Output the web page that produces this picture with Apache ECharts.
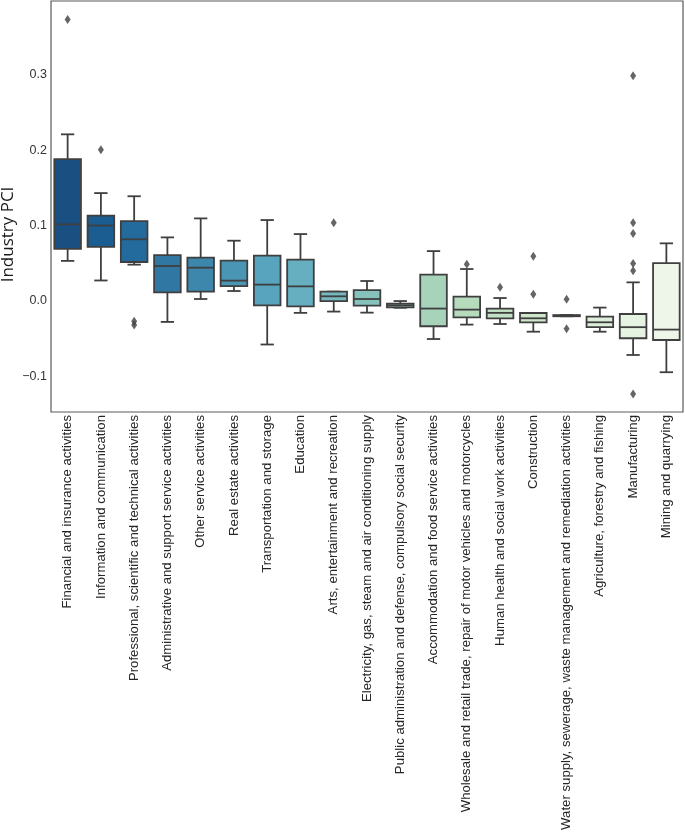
<!DOCTYPE html>
<html>
<head>
<meta charset="utf-8">
<script src="https://cdn.jsdelivr.net/npm/echarts@6/dist/echarts.min.js"></script>
<style>
html,body{margin:0;padding:0;background:#fff;}
#c{width:685px;height:834px;}
</style>
</head>
<body>
<div id="c"></div>
<script>
const categories = [
  "Financial and insurance activities",
  "Information and communication",
  "Professional, scientific and technical activities",
  "Administrative and support service activities",
  "Other service activities",
  "Real estate activities",
  "Transportation and storage",
  "Education",
  "Arts, entertainment and recreation",
  "Electricity, gas, steam and air conditioning supply",
  "Public administration and defense, compulsory social security",
  "Accommodation and food service activities",
  "Wholesale and retail trade, repair of motor vehicles and motorcycles",
  "Human health and social work activities",
  "Construction",
  "Water supply, sewerage, waste management and remediation activities",
  "Agriculture, forestry and fishing",
  "Manufacturing",
  "Mining and quarrying"
];
// [lower whisker, Q1, median, Q3, upper whisker]
const boxStats = [
  [0.053, 0.069, 0.1015, 0.188, 0.221],
  [0.027, 0.0715, 0.100, 0.113, 0.143],
  [0.048, 0.0515, 0.0816, 0.1058, 0.1388],
  [-0.028, 0.0113, 0.0462, 0.0607, 0.0842],
  [0.0024, 0.0122, 0.044, 0.0573, 0.1094],
  [0.013, 0.0196, 0.0268, 0.0533, 0.0798],
  [-0.058, -0.006, 0.0215, 0.060, 0.1072],
  [-0.016, -0.0073, 0.0192, 0.0546, 0.0886],
  [-0.0143, -0.0003, 0.006, 0.0122, 0.0122],
  [-0.0157, -0.0064, 0.0024, 0.0143, 0.0263],
  [-0.0092, -0.0086, -0.006, -0.0037, -0.0003],
  [-0.0507, -0.0338, -0.0103, 0.0347, 0.066],
  [-0.0316, -0.0219, -0.0117, 0.0056, 0.0422],
  [-0.0308, -0.0232, -0.016, -0.0103, 0.0037],
  [-0.041, -0.0285, -0.0232, -0.0162, -0.0162],
  [-0.0205, -0.0205, -0.0197, -0.019, -0.019],
  [-0.041, -0.035, -0.0285, -0.021, -0.009],
  [-0.0719, -0.0497, -0.035, -0.0175, 0.0245],
  [-0.0948, -0.052, -0.0382, 0.0501, 0.0763]
];
// outliers: [category index, value]
const outliers = [
  [0, 0.3736],
  [1, 0.2005],
  [2, -0.027], [2, -0.032],
  [8, 0.1037],
  [12, 0.0484],
  [13, 0.0179],
  [14, 0.059], [14, 0.0086],
  [15, 0.002], [15, -0.037],
  [17, 0.2988], [17, 0.1035], [17, 0.0893], [17, 0.0495], [17, 0.0398], [17, -0.1236]
];
const yTicks = [-0.1, 0.0, 0.1, 0.2, 0.3];

const palette = ["#194f81","#1b5d90","#236b9c","#3078a3","#3d86ac","#4b95b4","#58a3be","#66afc1","#75b8be","#85c2bc","#96caba","#a6d3b9","#b5dabc","#c3e1c4","#cfe6ca","#d7ead2","#deeeda","#e6f2e2","#eef6ea"];
const edge = "#3f3f3f";
const lw = 1.8;
const font = 'Liberation Sans, Arial, sans-serif';

const boxData = boxStats.map((s, i) => [i].concat(s));

const chart = echarts.init(document.getElementById('c'), null, {renderer: 'canvas'});
chart.setOption({
  animation: false,
  backgroundColor: '#fff',
  grid: {left: 51, right: 2, top: 1, bottom: 422, outerBoundsMode: 'none', containLabel: false,
         show: true, borderColor: '#5a5a5a', borderWidth: 1.2, backgroundColor: 'transparent'},
  xAxis: {
    type: 'category',
    data: categories,
    axisLine: {show: false},
    axisTick: {show: false},
    splitLine: {show: false},
    axisLabel: {rotate: 90, interval: 0, fontFamily: font, fontSize: 13.2, color: '#262626', margin: 3}
  },
  yAxis: {
    type: 'value',
    min: -0.1476,
    max: 0.398,
    name: 'Industry PCI',
    nameLocation: 'middle',
    nameGap: 34,
    nameMoveOverlap: false,
    nameTextStyle: {fontFamily: 'Open Sans, sans-serif', fontSize: 17, color: '#1a1a1a', padding: [0, 56, 0, 0]},
    axisLine: {show: false},
    axisTick: {show: false},
    splitLine: {show: false},
    axisLabel: {
      customValues: yTicks,
      fontFamily: font, fontSize: 12.5, color: '#333333', margin: 4,
      formatter: v => (v < 0 ? '\u2212' : '') + Math.abs(v).toFixed(1)
    }
  },
  series: [
    {
      type: 'custom',
      data: boxData,
      encode: {x: 0, y: [1, 2, 3, 4, 5]},
      renderItem: function (params, api) {
        const idx = api.value(0);
        const x = api.coord([idx, 0])[0];
        const band = api.size([1, 0])[0];
        const half = band * 0.4;
        const cap = band * 0.2;
        const yMin = api.coord([idx, api.value(1)])[1];
        const yQ1 = api.coord([idx, api.value(2)])[1];
        const yMed = api.coord([idx, api.value(3)])[1];
        const yQ3 = api.coord([idx, api.value(4)])[1];
        const yMax = api.coord([idx, api.value(5)])[1];
        const ls = {stroke: edge, lineWidth: lw, fill: null};
        return {
          type: 'group',
          children: [
            {type: 'line', shape: {x1: x, y1: yQ1, x2: x, y2: yMin}, style: ls},
            {type: 'line', shape: {x1: x - cap, y1: yMin, x2: x + cap, y2: yMin}, style: ls},
            {type: 'line', shape: {x1: x, y1: yQ3, x2: x, y2: yMax}, style: ls},
            {type: 'line', shape: {x1: x - cap, y1: yMax, x2: x + cap, y2: yMax}, style: ls},
            {type: 'rect', shape: {x: x - half, y: yQ3, width: 2 * half, height: Math.max(yQ1 - yQ3, 0.5)},
             style: {fill: palette[idx], stroke: edge, lineWidth: lw}},
            {type: 'line', shape: {x1: x - half, y1: yMed, x2: x + half, y2: yMed}, style: ls}
          ]
        };
      }
    },
    {
      type: 'scatter',
      data: outliers,
      symbol: 'diamond',
      symbolSize: [6, 9],
      itemStyle: {color: edge},
      z: 5
    }
  ]
});
</script>
</body>
</html>
